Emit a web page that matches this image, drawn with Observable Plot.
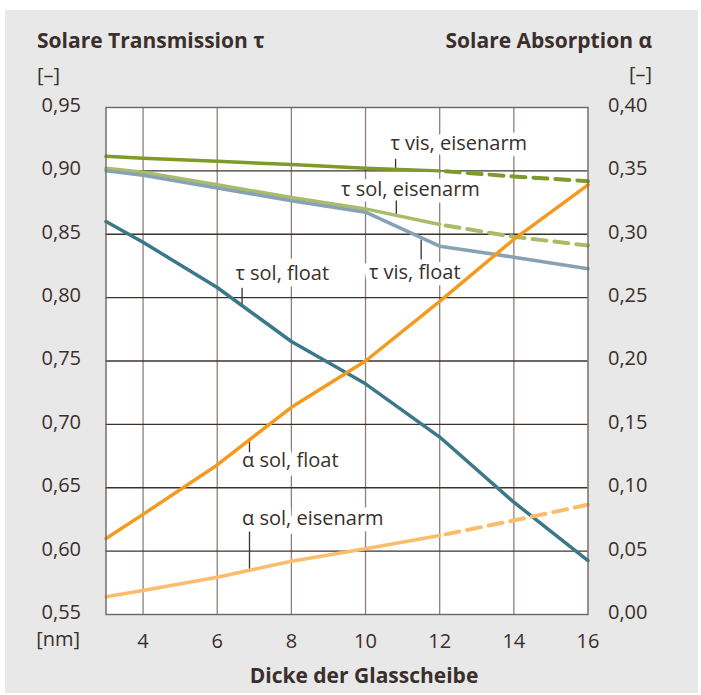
<!DOCTYPE html>
<html>
<head>
<meta charset="utf-8">
<script src="https://cdn.jsdelivr.net/npm/d3@7"></script>
<script src="https://cdn.jsdelivr.net/npm/@observablehq/plot@0.6"></script>
<style>
  body { margin: 0; background: #ffffff; }
  #wrap { position: relative; width: 701px; height: 695px; overflow: hidden; font-family: "Open Sans", sans-serif; color: #3a2f2b; }
  #panel { position: absolute; left: 5px; top: 10px; width: 693px; height: 683px; background: #e8e8e8; }
  #chart { position: absolute; left: 0; top: 0; }
  .t { position: absolute; font-size: 20px; line-height: 20px; white-space: nowrap; }
  .b { font-weight: 700; }
</style>
</head>
<body>
<div id="wrap">
  <div id="panel"></div>
  <div id="chart"></div>
</div>
<script>
// ---- data ----
const thickness = [3, 4, 6, 8, 10, 12, 14, 16];           // Dicke der Glasscheibe [nm]
const tauVisEisenarm  = [0.9115, 0.910, 0.9075, 0.905, 0.902, 0.900, 0.8956, 0.8919];
const tauSolEisenarm  = [0.902, 0.899, 0.889, 0.879, 0.870, 0.8577, 0.848, 0.8411];
const tauVisFloat     = [0.900, 0.8965, 0.8865, 0.8765, 0.8674, 0.8406, 0.8319, 0.8227];
const tauSolFloat     = [0.860, 0.8437, 0.808, 0.7654, 0.732, 0.690, 0.6386, 0.5926];
const alphaSolFloat   = [0.060, 0.079, 0.118, 0.1635, 0.200, 0.247, 0.296, 0.339];
const alphaSolEisenarm= [0.014, 0.019, 0.0294, 0.042, 0.0518, 0.0623, 0.0742, 0.0866];
const measuredUntil = 12; // eisenarm curves are dashed beyond this thickness

const leftTicks  = [0.55, 0.60, 0.65, 0.70, 0.75, 0.80, 0.85, 0.90, 0.95];
const rightTicks = [0.00, 0.05, 0.10, 0.15, 0.20, 0.25, 0.30, 0.35, 0.40];
const xTicks     = [4, 6, 8, 10, 12, 14, 16];
const alphaOffset = 0.55; // α axis 0,00 sits at τ = 0,55

const seriesNames = ["τ vis, eisenarm", "τ sol, eisenarm", "τ vis, float", "τ sol, float", "α sol, float", "α sol, eisenarm"];

// annotation labels with leader lines (data coordinates)
const labelText = ["τ vis, eisenarm", "τ sol, eisenarm", "τ vis, float", "τ sol, float", "α sol, float", "α sol, eisenarm"];
const labelX    = [10.67, 9.34, 10.09, 6.49, 6.67, 6.67];
const labelY    = [0.9214, 0.885, 0.820, 0.8188, 0.6715, 0.626];
const leaderX   = [10.81, 10.83, 11.50, 6.67, 6.87, 6.87];
const leaderY1  = [0.9095, 0.8766, 0.8459, 0.8078, 0.6894, 0.6155];
const leaderY2  = [0.9016, 0.8656, 0.8300, 0.7930, 0.6780, 0.5848];

// ---- styling ----
const textColor = "#3a2f2b";
const colors = ["#7d9a2b", "#a9bc68", "#86a2b3", "#3c788a", "#f39a1f", "#fbbd6c"];
const fmt = d => d.toFixed(2).replace(".", ",");

const seriesValues = [tauVisEisenarm, tauSolEisenarm, tauVisFloat, tauSolFloat, alphaSolFloat, alphaSolEisenarm];
const isAlpha = [false, false, false, false, true, true];
const isSplit = [true, true, false, false, false, true];

const lineMarks = [];
seriesValues.forEach((vals, i) => {
  const rows = thickness.map((x, j) => ({x, y: isAlpha[i] ? vals[j] + alphaOffset : vals[j]}));
  if (isSplit[i]) {
    lineMarks.push(Plot.line(rows.filter(r => r.x <= measuredUntil), {x: "x", y: "y", stroke: colors[i], strokeWidth: 3.5}));
    lineMarks.push(Plot.line(rows.filter(r => r.x >= measuredUntil), {x: "x", y: "y", stroke: colors[i], strokeWidth: 4, strokeDasharray: "14,8", strokeDashoffset: -6}));
  } else {
    lineMarks.push(Plot.line(rows, {x: "x", y: "y", stroke: colors[i], strokeWidth: 3.5}));
  }
});

const labels = labelText.map((text, i) => ({text, x: labelX[i], y: labelY[i], lx: leaderX[i], ly1: leaderY1[i], ly2: leaderY2[i]}));

const chart = Plot.plot({
  width: 701,
  height: 695,
  marginLeft: 105.5,
  marginRight: 113.5,
  marginTop: 107,
  marginBottom: 81,
  style: {background: "transparent", fontFamily: "Open Sans, sans-serif", fontSize: "20px", color: textColor},
  x: {domain: [3, 16]},
  y: {domain: [0.55, 0.95]},
  marks: [
    Plot.frame({fill: "white"}),
    Plot.ruleX(xTicks.slice(0, -1), {stroke: "#8b817a", strokeWidth: 1.3}),
    Plot.ruleY(leftTicks.slice(1, -1), {stroke: "#3d332e", strokeWidth: 1.3}),
    Plot.text(labels, {x: "x", y: "y", text: "text", textAnchor: "start", fill: textColor, stroke: "white", strokeWidth: 13, fontSize: 20}),
    Plot.link(labels, {x1: "lx", y1: "ly1", x2: "lx", y2: "ly2", stroke: textColor, strokeWidth: 1.3}),
    ...lineMarks,
    Plot.frame({stroke: "#6f6660", strokeWidth: 1.4}),
    Plot.axisY(leftTicks, {anchor: "left", tickSize: 0, tickPadding: 25, tickFormat: fmt, fontSize: 20, fill: textColor, dy: -2}),
    Plot.axisY(rightTicks.map(a => a + alphaOffset), {anchor: "right", tickSize: 0, tickPadding: 20, tickFormat: d => fmt(d - alphaOffset), fontSize: 20, fill: textColor, dy: -2}),
    Plot.axisX(xTicks, {anchor: "bottom", tickSize: 0, tickPadding: 19, tickFormat: d => String(d), fontSize: 20, fill: textColor})
  ]
});
document.getElementById("chart").appendChild(chart);

// ---- titles / units (HTML text around the SVG) ----
const wrap = document.getElementById("wrap");
function place(text, {x, cy, anchor = "start", bold = false, size = 20}) {
  const d = document.createElement("div");
  d.className = "t" + (bold ? " b" : "");
  d.textContent = text;
  d.style.fontSize = size + "px";
  d.style.lineHeight = size + "px";
  d.style.top = (cy - 0.53 * size) + "px";
  wrap.appendChild(d);
  const w = d.getBoundingClientRect().width;
  const left = anchor === "start" ? x : anchor === "end" ? x - w : x - w / 2;
  d.style.left = left + "px";
}
place("Solare Transmission τ", {x: 37, cy: 41, bold: true, size: 21});
place("[–]", {x: 37, cy: 76});
place("Solare Absorption α", {x: 652, cy: 41, anchor: "end", bold: true, size: 21});
place("[–]", {x: 652, cy: 75, anchor: "end"});
place("[nm]", {x: 80, cy: 640, anchor: "end"});
place("Dicke der Glasscheibe", {x: 364, cy: 676, anchor: "middle", bold: true, size: 21});
</script>
</body>
</html>
